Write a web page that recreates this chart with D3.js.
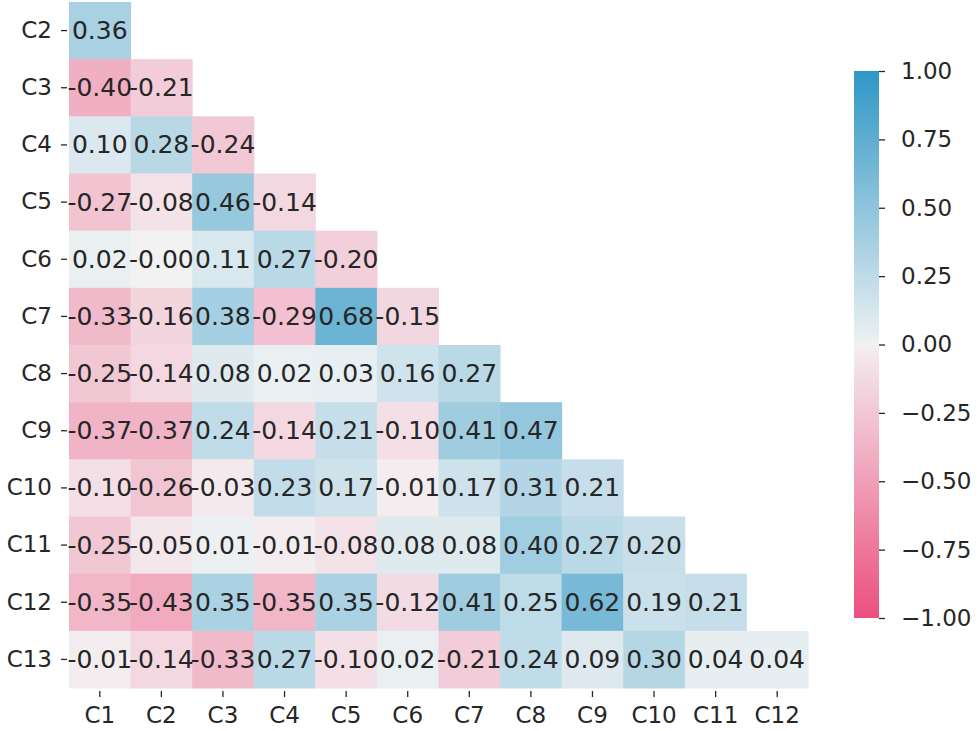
<!DOCTYPE html>
<html>
<head>
<meta charset="utf-8">
<script src="https://cdn.jsdelivr.net/npm/d3@7"></script>
<style>
  body { margin: 0; background: #fff; }
  text { font-family: "DejaVu Sans", sans-serif; fill: #262626; }
</style>
</head>
<body>
<div class="d3"></div>
<script>
const rowLabels = ["C2","C3","C4","C5","C6","C7","C8","C9","C10","C11","C12","C13"];
const colLabels = ["C1","C2","C3","C4","C5","C6","C7","C8","C9","C10","C11","C12"];

// lower triangle, one array per row
const rC2  = [0.36];
const rC3  = [-0.40, -0.21];
const rC4  = [0.10, 0.28, -0.24];
const rC5  = [-0.27, -0.08, 0.46, -0.14];
const rC6  = [0.02, -0.00, 0.11, 0.27, -0.20];
const rC7  = [-0.33, -0.16, 0.38, -0.29, 0.68, -0.15];
const rC8  = [-0.25, -0.14, 0.08, 0.02, 0.03, 0.16, 0.27];
const rC9  = [-0.37, -0.37, 0.24, -0.14, 0.21, -0.10, 0.41, 0.47];
const rC10 = [-0.10, -0.26, -0.03, 0.23, 0.17, -0.01, 0.17, 0.31, 0.21];
const rC11 = [-0.25, -0.05, 0.01, -0.01, -0.08, 0.08, 0.08, 0.40, 0.27, 0.20];
const rC12 = [-0.35, -0.43, 0.35, -0.35, 0.35, -0.12, 0.41, 0.25, 0.62, 0.19, 0.21];
const rC13 = [-0.01, -0.14, -0.33, 0.27, -0.10, 0.02, -0.21, 0.24, 0.09, 0.30, 0.04, 0.04];
const rows = [rC2, rC3, rC4, rC5, rC6, rC7, rC8, rC9, rC10, rC11, rC12, rC13];

const cbTicks = [1.00, 0.75, 0.50, 0.25, 0.00, -0.25, -0.50, -0.75, -1.00];

function main() {
    const width = 980, height = 731;
    const fs = 23;   // tick labels
    const afs = 25;  // cell annotations

    const svg = d3.select(".d3").append("svg")
        .attr("width", width)
        .attr("height", height);

    const x = d3.scaleBand().domain(colLabels).range([69, 808]);
    const y = d3.scaleBand().domain(rowLabels).range([2, 688]);

    // seaborn-like diverging map: pink -> grayish tint -> light gray -> grayish tint -> blue
    const color = d3.scaleLinear()
        .domain([-1, -0.004, 0, 0.004, 1])
        .range(["#ec4f80", "#f4eef0", "#f2f2f2", "#edf1f3", "#2f97c5"])
        .interpolate(d3.interpolateRgb)
        .clamp(true);

    const fmt = v => (v < 0 || Object.is(v, -0) ? "-" : "") + Math.abs(v).toFixed(2);

    const cells = [];
    rows.forEach((vals, i) => vals.forEach((v, j) => cells.push({r: rowLabels[i], c: colLabels[j], v: v})));

    svg.append("g").selectAll("rect")
        .data(cells).enter().append("rect")
        .attr("x", d => x(d.c))
        .attr("y", d => y(d.r))
        .attr("width", x.bandwidth() + 0.5)
        .attr("height", y.bandwidth() + 0.5)
        .attr("fill", d => color(d.v));

    // axes
    const yAxis = svg.append("g")
        .attr("transform", "translate(" + 67 + ",0)")
        .call(d3.axisLeft(y).tickSize(6).tickPadding(9));
    const xAxis = svg.append("g")
        .attr("transform", "translate(0," + 691 + ")")
        .call(d3.axisBottom(x).tickSize(6).tickPadding(10));
    [yAxis, xAxis].forEach(a => {
        a.select(".domain").remove();
        a.selectAll("line").attr("stroke", "#262626").attr("stroke-width", 1.3);
        a.selectAll("text").style("font-size", fs + "px").attr("fill", "#262626");
    });

    svg.append("g").selectAll("text")
        .data(cells).enter().append("text")
        .attr("x", d => x(d.c) + x.bandwidth() / 2)
        .attr("y", d => y(d.r) + y.bandwidth() / 2)
        .attr("text-anchor", "middle")
        .attr("dominant-baseline", "central")
        .style("font-size", afs + "px")
        .text(d => fmt(d.v));

    // colorbar
    const cb = d3.scaleLinear().domain([-1, 1]).range([618, 71]);
    const grad = svg.append("defs").append("linearGradient")
        .attr("id", "cbgrad")
        .attr("x1", 0).attr("x2", 0).attr("y1", 1).attr("y2", 0);
    d3.range(0, 1.0001, 0.01).forEach(t => {
        grad.append("stop")
            .attr("offset", t)
            .attr("stop-color", color(-1 + 2 * t));
    });
    svg.append("rect")
        .attr("x", 854)
        .attr("y", cb(1))
        .attr("width", 25)
        .attr("height", cb(-1) - cb(1))
        .attr("fill", "url(#cbgrad)");

    const cbAxis = svg.append("g")
        .attr("transform", "translate(" + 879 + ",0)")
        .call(d3.axisRight(cb).tickValues(cbTicks).tickSize(6).tickPadding(16)
            .tickFormat(d => (d < 0 ? "\u2212" : "") + Math.abs(d).toFixed(2)));
    cbAxis.select(".domain").remove();
    cbAxis.selectAll("line").attr("stroke", "#262626").attr("stroke-width", 1.3);
    cbAxis.selectAll("text").style("font-size", fs + "px").attr("fill", "#262626");
}
main();
</script>
</body>
</html>
